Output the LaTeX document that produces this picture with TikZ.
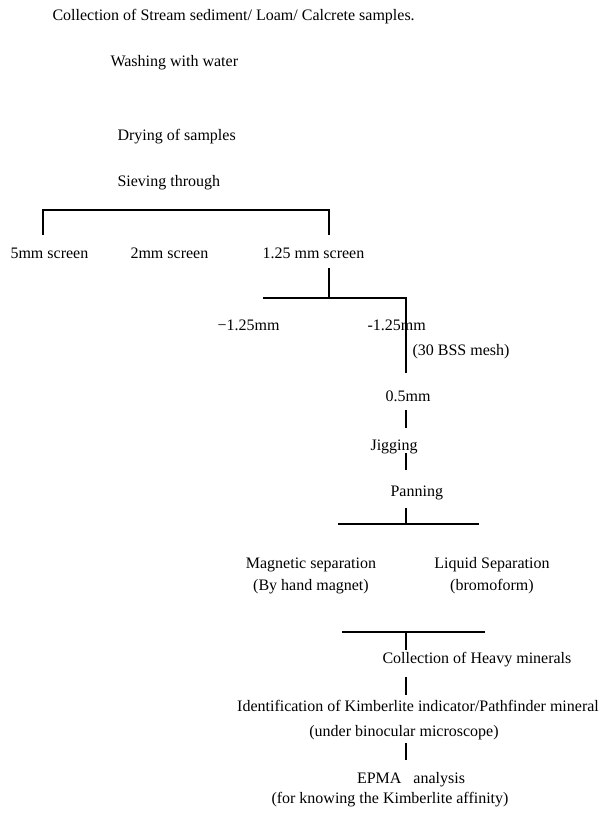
\documentclass[tikz,border=0pt]{standalone}
\usepackage{fontspec}
\setmainfont{Liberation Serif}
\usetikzlibrary{positioning}

\begin{document}
\begin{tikzpicture}[x=1pt,y=-1pt,line width=1.1pt,
  every node/.style={font=\fontsize{16}{22}\selectfont,inner sep=0pt},
  lbl/.style={anchor=west,text height=11pt,text depth=3.5pt},
  mid/.style={text height=11pt,text depth=3.5pt},
  pair/.style={align=center}]
\useasboundingbox (0,0) rectangle (605,816);
% steps
\node[lbl] (coll)  at (52,17)  {Collection of Stream sediment/ Loam/ Calcrete samples.};
\node[lbl] (wash)  at (110,63) {Washing with water};
\node[lbl] (dry)   at (117,137) {Drying of samples};
\node[lbl] (sieve) at (117,183) {Sieving through};
% screens
\node[lbl] (scrA) at (10,255)  {5mm screen};
\node[lbl] (scrB) at (130,255) {2mm screen};
\node[lbl] (scrC) at (262,255) {1.25 mm screen};
\node[lbl] (finA) at (217,327) {−1.25mm};
\node[lbl] (finB) at (367,327) {-1.25mm};
\node[lbl] (bss)  at (412,352) {(30 BSS mesh)};
\node[lbl] (half) at (385,398) {0.5mm};
\node[lbl] (jig)  at (370,447) {Jigging};
\node[lbl] (pan)  at (390,493) {Panning};
% separation
\node[pair] (mag) at (311,576) {Magnetic separation\\(By hand magnet)};
\node[pair] (liq) at (492,576) {Liquid Separation\\(bromoform)};
\node[lbl] (heavy) at (382,660) {Collection of Heavy minerals};
\node[mid] (idA) at (418,708) {Identification of Kimberlite indicator/Pathfinder mineral};
\node[mid] (idB) at (404,733) {(under binocular microscope)};
\node[mid] (epA) at (411,780) {EPMA\ \ \ analysis};
\node[mid] (epB) at (390,800) {(for knowing the Kimberlite affinity)};
% line ends
\coordinate (a1) at (43,235);  \coordinate (a2) at (43,210);
\coordinate (a3) at (329,210); \coordinate (a4) at (329,235);
\coordinate (b1) at (329,268); \coordinate (b2) at (329,298);
\coordinate (b3) at (263,298); \coordinate (b4) at (406,298);
\coordinate (b5) at (406,373);
\coordinate (c1) at (338,524); \coordinate (c2) at (479,524);
\coordinate (c3) at (406,508); \coordinate (c4) at (406,524);
\coordinate (d1) at (342,632); \coordinate (d2) at (485,632);
\coordinate (d3) at (406,632); \coordinate (d4) at (406,650);
% brackets
\draw (a1) -- (a2) -- (a3) -- (a4);
\draw (b1) -- (b2);
\draw (b3) -- (b4) -- (b5);
\draw (c3) -- (c4);
\draw (c1) -- (c2);
\draw (d1) -- (d2);
\draw (d3) -- (d4);
% short stems
\foreach \t/\b [count=\i] in {410/428,453/470,677/695,743/760}{
  \coordinate (t\i) at (406,\t);
  \coordinate (u\i) at (406,\b);
  \draw (t\i) -- (u\i);
}
\end{tikzpicture}
\end{document}
